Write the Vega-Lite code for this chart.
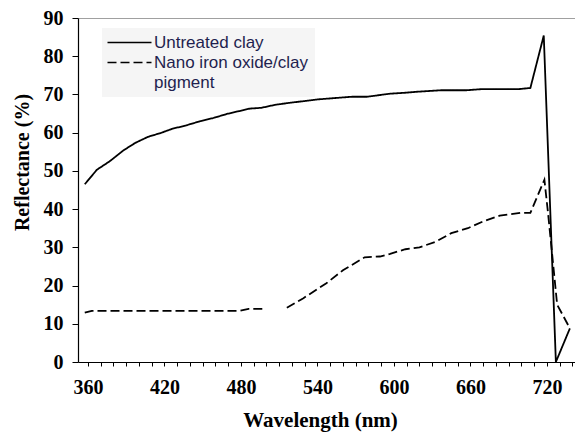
{
  "$schema": "https://vega.github.io/schema/vega-lite/v6.json",
  "width": 497,
  "height": 344,
  "autosize": {"type": "none"},
  "padding": {"left": 78, "top": 18, "right": 0, "bottom": 70},
  "background": "white",
  "config": {"view": {"stroke": null}, "style": {"guide-label": {"lineHeight": 20}}},
  "data": {
    "values": [
      {"s": "Untreated clay", "seg": "a", "wl": 357.5, "r": 46.5},
      {"s": "Untreated clay", "seg": "a", "wl": 367, "r": 50.3},
      {"s": "Untreated clay", "seg": "a", "wl": 377, "r": 52.5},
      {"s": "Untreated clay", "seg": "a", "wl": 388, "r": 55.4},
      {"s": "Untreated clay", "seg": "a", "wl": 397, "r": 57.3},
      {"s": "Untreated clay", "seg": "a", "wl": 407, "r": 58.9},
      {"s": "Untreated clay", "seg": "a", "wl": 417, "r": 59.9},
      {"s": "Untreated clay", "seg": "a", "wl": 426, "r": 61.0},
      {"s": "Untreated clay", "seg": "a", "wl": 437, "r": 61.9},
      {"s": "Untreated clay", "seg": "a", "wl": 448, "r": 63.0},
      {"s": "Untreated clay", "seg": "a", "wl": 458, "r": 63.8},
      {"s": "Untreated clay", "seg": "a", "wl": 469, "r": 64.9},
      {"s": "Untreated clay", "seg": "a", "wl": 478, "r": 65.6},
      {"s": "Untreated clay", "seg": "a", "wl": 487, "r": 66.3},
      {"s": "Untreated clay", "seg": "a", "wl": 496, "r": 66.5},
      {"s": "Untreated clay", "seg": "a", "wl": 507, "r": 67.3},
      {"s": "Untreated clay", "seg": "a", "wl": 518, "r": 67.8},
      {"s": "Untreated clay", "seg": "a", "wl": 528, "r": 68.2},
      {"s": "Untreated clay", "seg": "a", "wl": 540, "r": 68.7},
      {"s": "Untreated clay", "seg": "a", "wl": 567, "r": 69.4},
      {"s": "Untreated clay", "seg": "a", "wl": 579, "r": 69.4},
      {"s": "Untreated clay", "seg": "a", "wl": 597, "r": 70.2},
      {"s": "Untreated clay", "seg": "a", "wl": 607, "r": 70.4},
      {"s": "Untreated clay", "seg": "a", "wl": 618, "r": 70.7},
      {"s": "Untreated clay", "seg": "a", "wl": 637, "r": 71.1},
      {"s": "Untreated clay", "seg": "a", "wl": 657, "r": 71.1},
      {"s": "Untreated clay", "seg": "a", "wl": 669, "r": 71.4},
      {"s": "Untreated clay", "seg": "a", "wl": 698, "r": 71.4},
      {"s": "Untreated clay", "seg": "a", "wl": 707, "r": 71.7},
      {"s": "Untreated clay", "seg": "a", "wl": 717.5, "r": 85.4},
      {"s": "Untreated clay", "seg": "a", "wl": 727, "r": 0},
      {"s": "Untreated clay", "seg": "a", "wl": 738, "r": 8.8},
      {"s": "Nano iron oxide/clay pigment", "seg": "b1", "wl": 357.5, "r": 12.9},
      {"s": "Nano iron oxide/clay pigment", "seg": "b1", "wl": 363, "r": 13.4},
      {"s": "Nano iron oxide/clay pigment", "seg": "b1", "wl": 479, "r": 13.4},
      {"s": "Nano iron oxide/clay pigment", "seg": "b1", "wl": 486, "r": 13.9},
      {"s": "Nano iron oxide/clay pigment", "seg": "b1", "wl": 499, "r": 13.9},
      {"s": "Nano iron oxide/clay pigment", "seg": "b2", "wl": 516, "r": 14.2},
      {"s": "Nano iron oxide/clay pigment", "seg": "b2", "wl": 529, "r": 16.7},
      {"s": "Nano iron oxide/clay pigment", "seg": "b2", "wl": 547, "r": 20.6},
      {"s": "Nano iron oxide/clay pigment", "seg": "b2", "wl": 560, "r": 24.0},
      {"s": "Nano iron oxide/clay pigment", "seg": "b2", "wl": 577, "r": 27.4},
      {"s": "Nano iron oxide/clay pigment", "seg": "b2", "wl": 589, "r": 27.6},
      {"s": "Nano iron oxide/clay pigment", "seg": "b2", "wl": 597, "r": 28.3},
      {"s": "Nano iron oxide/clay pigment", "seg": "b2", "wl": 609, "r": 29.5},
      {"s": "Nano iron oxide/clay pigment", "seg": "b2", "wl": 620, "r": 30.0},
      {"s": "Nano iron oxide/clay pigment", "seg": "b2", "wl": 633, "r": 31.5},
      {"s": "Nano iron oxide/clay pigment", "seg": "b2", "wl": 645, "r": 33.7},
      {"s": "Nano iron oxide/clay pigment", "seg": "b2", "wl": 658, "r": 35.0},
      {"s": "Nano iron oxide/clay pigment", "seg": "b2", "wl": 670, "r": 36.8},
      {"s": "Nano iron oxide/clay pigment", "seg": "b2", "wl": 683, "r": 38.3},
      {"s": "Nano iron oxide/clay pigment", "seg": "b2", "wl": 699, "r": 39.0},
      {"s": "Nano iron oxide/clay pigment", "seg": "b2", "wl": 707, "r": 39.0},
      {"s": "Nano iron oxide/clay pigment", "seg": "b2", "wl": 718, "r": 47.7},
      {"s": "Nano iron oxide/clay pigment", "seg": "b2", "wl": 721, "r": 38.5},
      {"s": "Nano iron oxide/clay pigment", "seg": "b2", "wl": 728, "r": 15.0},
      {"s": "Nano iron oxide/clay pigment", "seg": "b2", "wl": 738, "r": 8.8}
    ]
  },
  "layer": [
    {
      "mark": {"type": "line", "strokeWidth": 1.8, "color": "black", "clip": true},
      "encoding": {
        "x": {
          "field": "wl", "type": "quantitative",
          "scale": {"domain": [352.2, 742], "nice": false, "zero": false},
          "axis": {
            "values": [360, 370, 380, 390, 400, 410, 420, 430, 440, 450, 460, 470, 480, 490, 500, 510, 520, 530, 540, 550, 560, 570, 580, 590, 600, 610, 620, 630, 640, 650, 660, 670, 680, 690, 700, 710, 720, 730, 740],
            "labelExpr": "datum.value % 60 == 0 ? datum.label : ''",
            "title": "Wavelength (nm)",
            "grid": false,
            "domainColor": "black", "domainWidth": 1.2,
            "tickColor": "black", "tickSize": 4,
            "labelFont": "Liberation Serif", "labelFontSize": 20, "labelFontWeight": "bold", "labelColor": "black",
            "labelPadding": 11, "labelOverlap": false,
            "titleFont": "Liberation Serif", "titleFontSize": 21, "titleFontWeight": "bold", "titleColor": "black",
            "titleX": 242, "titleY": 64, "titleBaseline": "alphabetic", "titleAlign": "center"
          }
        },
        "y": {
          "field": "r", "type": "quantitative",
          "scale": {"domain": [0, 90], "nice": false},
          "axis": {
            "values": [0, 10, 20, 30, 40, 50, 60, 70, 80, 90],
            "title": "Reflectance (%)",
            "grid": false,
            "domainColor": "black", "domainWidth": 1.2,
            "tickColor": "black", "tickSize": 6,
            "labelFont": "Liberation Serif", "labelFontSize": 20, "labelFontWeight": "bold", "labelColor": "black",
            "labelPadding": 9,
            "titleFont": "Liberation Serif", "titleFontSize": 20, "titleFontWeight": "bold", "titleColor": "black",
            "titleX": -56, "titleY": 144, "titleAngle": -90, "titleBaseline": "middle", "titleAlign": "center"
          }
        },
        "strokeDash": {
          "field": "s", "type": "nominal",
          "scale": {"domain": ["Untreated clay", "Nano iron oxide/clay pigment"], "range": [[1, 0], [9, 4]]},
          "legend": {
            "orient": "none", "legendX": 24, "legendY": 10,
            "title": null,
            "fillColor": "#f5f5f5",
            "padding": 6,
            "symbolType": "M -4.4 0 L 4.4 0", "symbolSize": 100, "symbolStrokeWidth": 1.6, "symbolStrokeColor": "black",
            "symbolOffset": 13,
            "labelFont": "Liberation Sans", "labelFontSize": 17, "labelColor": "#1f1f4f",
            "labelOffset": 16, "labelLimit": 0, "rowPadding": 2,
            "labelExpr": "datum.label == 'Nano iron oxide/clay pigment' ? ['Nano iron oxide/clay', 'pigment'] : datum.label"
          }
        },
        "detail": {"field": "seg", "type": "nominal"}
      }
    },
    {
      "mark": {"type": "rule", "opacity": 0},
      "encoding": {
        "x": {
          "field": "wl", "type": "quantitative",
          "axis": {"orient": "top", "labels": false, "ticks": false, "title": null, "grid": false, "domainColor": "#a0a0a0"}
        }
      }
    }
  ],
  "resolve": {"axis": {"x": "independent"}}
}
